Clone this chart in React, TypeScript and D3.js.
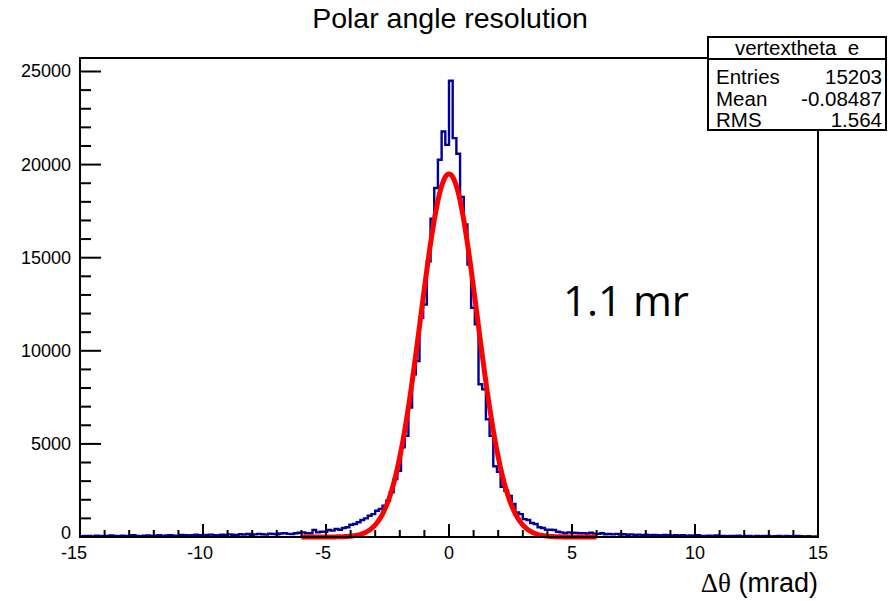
import React from 'react';
import * as d3 from 'd3';

// histogram: 200 bins of 0.15 mrad over [-15, 15]
const binLow = -15;
const binWidth = 0.15;

// bins 0-59 (-15 .. -6.15)
const leftTail = [
  40, 60, 50, 30, 70, 50, 40, 60, 80, 50, 40, 70, 60, 50, 90, 60, 40, 70, 80, 60,
  70, 90, 60, 80, 100, 70, 60, 110, 90, 80, 100, 120, 90, 80, 110, 130, 100, 90, 120, 110,
  140, 120, 100, 150, 130, 160, 120, 140, 170, 150, 130, 180, 160, 140, 190, 210, 170, 160, 200, 230,
];
// bins 60-85
const leftFlank = [
  250, 200, 200, 375, 250, 280, 280, 375, 340, 430, 390, 480, 520, 660, 700, 790, 910, 1000, 1140, 1230,
  1410, 1500, 1680, 1950, 2400, 3110,
];
// bins 86-113
const core = [
  3550, 4820, 5430, 6950, 8740, 9450, 11770, 12490, 14810, 17100, 18740, 20260, 21780, 21060,
  24500, 21420, 20580, 18260, 16780, 14630, 12310, 11420, 8200, 7930, 6320, 5430, 3800, 3500,
];
// bins 114-135
const rightFlank = [
  2700, 2480, 2210, 1770, 1320, 1230, 960, 910, 750, 700, 520, 480, 390, 390, 375, 280, 250, 200, 250, 230,
  220, 200,
];
// bins 136-199
const rightTail = [
  210, 190, 230, 180, 170, 200, 150, 160, 140, 170, 130, 150, 120, 140, 110, 130, 100, 120, 90, 110,
  100, 80, 110, 90, 70, 100, 80, 90, 60, 80, 70, 90, 60, 50, 70, 60, 80, 50, 60, 40,
  60, 50, 70, 40, 50, 60, 30, 50, 40, 60, 50, 30, 40, 50, 30, 60, 40, 30, 50, 40, 30, 40, 20, 30,
];
const counts = [...leftTail, ...leftFlank, ...core, ...rightFlank, ...rightTail];

// gaus fit
const fitAmp = 19500;
const fitMean = 0.0;
const fitSigma = 1.15;
const fitRange = [-6, 6];

const xTicks = [-15, -10, -5, 0, 5, 10, 15];
const yTicks = [0, 5000, 10000, 15000, 20000, 25000];

const statsName = 'vertextheta_e';
const statsRows = [
  ['Entries', '15203'],
  ['Mean', '-0.08487'],
  ['RMS', '1.564'],
];

const W = 889;
const H = 601;
const left = 80, right = 818, top = 58, bottom = 537;
const sans = '"Liberation Sans", Arial, Helvetica, sans-serif';

export default function App() {
  const x = d3.scaleLinear().domain([-15, 15]).range([left, right]);
  const y = d3.scaleLinear().domain([0, 25725]).range([bottom, top]);

  // step outline
  const pts: [number, number][] = [];
  counts.forEach((c, i) => {
    const x0 = binLow + i * binWidth;
    pts.push([x0, c], [x0 + binWidth, c]);
  });
  const histPath = d3.line<[number, number]>()
    .x(d => x(d[0]))
    .y(d => y(d[1]))(pts);

  const fitPath = d3.line<number>()
    .x(d => x(d))
    .y(d => y(fitAmp * Math.exp(-0.5 * ((d - fitMean) / fitSigma) ** 2)))(
      d3.range(fitRange[0], fitRange[1] + 0.001, 0.04)
    );

  const xMinor = d3.range(-15, 16, 1).filter(v => v % 5 !== 0);
  const yMinor = d3.range(0, 25001, 1000).filter(v => v % 5000 !== 0);

  return (
    <div style={{ position: 'fixed', left: 0, top: 0 }}>
      <svg width={W} height={H} style={{ display: 'block', background: '#fff' }}>
        <text x={450} y={28} textAnchor="middle" fontFamily={sans} fontSize={28.5}>
          Polar angle resolution
        </text>

        <path d={histPath || ''} fill="none" stroke="#000099" strokeWidth={2.4} />
        <path d={fitPath || ''} fill="none" stroke="#ff0000" strokeWidth={5} strokeLinejoin="round" />

        {/* frame */}
        <rect x={left} y={top} width={right - left} height={bottom - top} fill="none" stroke="#000" strokeWidth={2} />

        {/* y axis */}
        {yTicks.map(v => (
          <g key={'y' + v}>
            <line x1={left} x2={left + 21} y1={y(v)} y2={y(v)} stroke="#000" strokeWidth={2} />
            <text x={71} y={y(v) + (v === 0 ? 2 : 6)} textAnchor="end" fontFamily={sans} fontSize={18}>{v}</text>
          </g>
        ))}
        {yMinor.map(v => (
          <line key={'ym' + v} x1={left} x2={left + 11} y1={y(v)} y2={y(v)} stroke="#000" strokeWidth={2} />
        ))}

        {/* x axis */}
        {xTicks.map(v => (
          <g key={'x' + v}>
            <line x1={x(v)} x2={x(v)} y1={bottom} y2={bottom - 13} stroke="#000" strokeWidth={2} />
            <text x={x(v) - (v === -15 ? 6 : v < 0 ? 3 : 0)} y={559} textAnchor="middle" fontFamily={sans} fontSize={18}>{v}</text>
          </g>
        ))}
        {xMinor.map(v => (
          <line key={'xm' + v} x1={x(v)} x2={x(v)} y1={bottom} y2={bottom - 7} stroke="#000" strokeWidth={2} />
        ))}

        <text x={818} y={592} textAnchor="end" fontSize={27}>
          <tspan fontFamily='"Liberation Serif", "Times New Roman", serif'>Δθ</tspan>
          <tspan fontFamily={sans}> (mrad)</tspan>
        </text>

        <text x={563} y={316} fontFamily='"Open Sans", sans-serif' fontSize={42}>1.1 mr</text>

        {/* stats box */}
        <g fontFamily={sans} fontSize={20.5}>
          <rect x={708} y={37} width={178} height={93} fill="#fff" stroke="#000" strokeWidth={2} />
          <line x1={708} x2={886} y1={59} y2={59} stroke="#000" strokeWidth={2} />
          <text x={797} y={55} textAnchor="middle">{statsName}</text>
          {statsRows.map((r, i) => (
            <g key={r[0]}>
              <text x={716} y={84 + i * 21.5}>{r[0]}</text>
              <text x={882} y={84 + i * 21.5} textAnchor="end">{r[1]}</text>
            </g>
          ))}
        </g>
      </svg>
    </div>
  );
}
